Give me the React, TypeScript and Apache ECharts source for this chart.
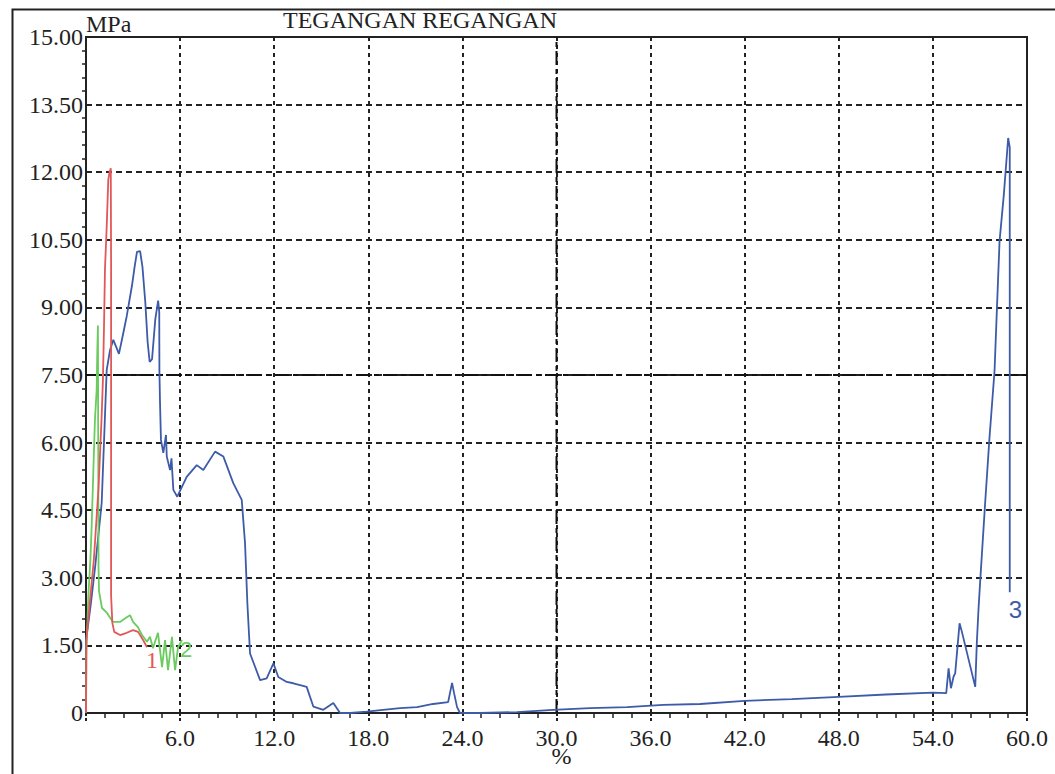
import React, { useEffect, useRef } from "react";
import * as echarts from "echarts";

// Series 3 (blue)
const blueStrain = [0, 0, 0.3, 0.6, 1.0, 1.2, 1.32, 1.53, 1.74, 1.95, 2.1, 2.3, 2.6, 2.93, 3.1, 3.25, 3.45, 3.6, 3.78, 3.93, 4.06, 4.21, 4.42, 4.6, 4.67, 4.68, 4.72, 4.78, 4.93, 5.1, 5.15, 5.36, 5.45, 5.57, 5.82, 6.42, 7.06, 7.48, 8.23, 8.76, 9.39, 9.93, 10.14, 10.29, 10.46, 11.1, 11.52, 11.95, 12.26, 12.8, 13.22, 13.65, 14.07, 14.5, 15.13, 15.77, 16.2, 16.84, 17.9, 18.94, 20.03, 21.11, 22.13, 23.09, 23.34, 23.47, 23.66, 23.85, 25.13, 27.49, 29.78, 32.14, 34.5, 36.8, 39.16, 42, 45, 48, 51, 54, 54.85, 55.0, 55.15, 55.32, 55.42, 55.7, 55.85, 56.7, 56.8, 56.91, 57.02, 57.34, 57.6, 57.93, 58.08, 58.25, 58.52, 58.65, 58.8, 58.9, 58.9];
const blueStress = [0, 1.6, 2.4, 3.3, 4.66, 6.5, 7.61, 8.05, 8.28, 8.1, 7.97, 8.3, 8.81, 9.48, 9.9, 10.23, 10.25, 9.9, 9.12, 8.23, 7.79, 7.85, 8.74, 9.15, 8.9, 7.61, 6.87, 6.06, 5.77, 6.17, 5.69, 5.39, 5.65, 4.95, 4.8, 5.24, 5.5, 5.39, 5.8, 5.69, 5.1, 4.73, 3.77, 2.43, 1.32, 0.73, 0.77, 1.1, 0.8, 0.69, 0.66, 0.62, 0.58, 0.14, 0.07, 0.22, 0, 0, 0.03, 0.07, 0.11, 0.13, 0.2, 0.24, 0.67, 0.44, 0.13, 0, 0, 0.02, 0.07, 0.11, 0.13, 0.18, 0.2, 0.27, 0.31, 0.36, 0.41, 0.45, 0.44, 0.99, 0.55, 0.81, 0.88, 1.99, 1.8, 0.58, 1.55, 2.32, 2.95, 4.71, 6.07, 7.59, 8.95, 10.47, 11.49, 12.08, 12.76, 12.55, 2.68];

// Series 2 (green)
const greenStrain = [0, 0.03, 0.15, 0.28, 0.36, 0.47, 0.57, 0.68, 0.72, 0.76, 0.78, 0.8, 0.83, 1.02, 1.34, 1.72, 2.17, 2.62, 2.81, 3.0, 3.32, 3.57, 3.89, 4.08, 4.27, 4.59, 4.85, 5.04, 5.23, 5.48, 5.68, 5.87, 6.12];
const greenStress = [0, 1.4, 2.6, 3.4, 4.13, 5.39, 6.5, 7.17, 8.0, 8.6, 6.0, 3.2, 2.7, 2.33, 2.22, 2.02, 2.02, 2.13, 2.17, 2.02, 1.9, 1.73, 1.58, 1.69, 1.44, 1.78, 1.02, 1.62, 0.95, 1.69, 0.95, 1.46, 1.62];

// Series 1 (red)
const redStrain = [0, 0.02, 0.2, 0.5, 0.8, 1.0, 1.08, 1.15, 1.21, 1.32, 1.42, 1.5, 1.58, 1.6, 1.6, 1.68, 1.8, 2.17, 2.6, 3.0, 3.32, 3.64, 3.89];
const redStress = [0, 1.6, 2.3, 3.4, 5.0, 6.6, 7.4, 8.6, 9.85, 10.79, 11.83, 12.0, 12.09, 10.0, 2.6, 2.0, 1.8, 1.73, 1.78, 1.84, 1.8, 1.62, 1.46];

const xTicks = { min: 0, max: 60, interval: 6 };
const yTicks = { min: 0, max: 15, interval: 1.5 };
// centre reference lines of the grid (stress 7.50 MPa, strain 30.0 %)
const centreStress = 7.5;
const centreStrain = 30;

const zip = (a: number[], b: number[]) => a.map((v, i) => [v, b[i]]);

const SERIF = "Liberation Serif";
const INK = "#222";
const CENTRE_DASH = [14, 4, 5, 4];

export default function App() {
  const ref = useRef<HTMLDivElement>(null);
  useEffect(() => {
    if (!ref.current) return;
    const chart = echarts.init(ref.current, null, { renderer: "svg" });
    const refLine = (data: number[][]) => ({
      type: "line",
      data,
      showSymbol: false,
      symbol: "none",
      silent: true,
      lineStyle: { color: "#111", width: 2, type: CENTRE_DASH },
      z: 2,
    });
    const option: any = {
      animation: false,
      backgroundColor: "#fff",
      textStyle: { fontFamily: SERIF },
      title: {
        text: "TEGANGAN REGANGAN",
        left: 278,
        top: 3,
        textStyle: { fontFamily: SERIF, fontSize: 24, fontWeight: "normal", color: INK },
      },
      graphic: [
        {
          type: "rect",
          left: 10,
          top: 7,
          shape: { width: 1100, height: 900 },
          style: { fill: "none", stroke: INK, lineWidth: 2 },
          silent: true,
        },
      ],
      grid: {
        left: 86,
        top: 37,
        right: 28,
        bottom: 61,
        outerBoundsMode: "none",
        containLabel: false,
        show: true,
        borderColor: INK,
        borderWidth: 2,
        backgroundColor: "transparent",
      },
      xAxis: {
        type: "value",
        min: xTicks.min,
        max: xTicks.max,
        interval: xTicks.interval,
        name: "%",
        nameLocation: "middle",
        nameGap: 35,
        nameMoveOverlap: false,
        nameTextStyle: { fontFamily: SERIF, fontSize: 24, lineHeight: 16, color: INK, padding: [0, 0, 0, 10] },
        axisLine: { lineStyle: { color: INK, width: 2 } },
        axisTick: { show: true, length: 8, lineStyle: { color: INK, width: 2, type: [3, 2] } },
        minorTick: { show: true, splitNumber: 5, length: 5, lineStyle: { color: INK, width: 1.5 } },
        splitLine: { show: true, lineStyle: { color: INK, width: 2, type: [4, 4] } },
        axisLabel: {
          fontFamily: SERIF,
          fontSize: 24,
          lineHeight: 16,
          color: INK,
          margin: 17,
          formatter: (v: number) => (v === 0 ? "" : v.toFixed(1)),
        },
      },
      yAxis: {
        type: "value",
        min: yTicks.min,
        max: yTicks.max,
        interval: yTicks.interval,
        name: "MPa",
        nameLocation: "end",
        nameGap: 1,
        nameMoveOverlap: false,
        nameTextStyle: { fontFamily: SERIF, fontSize: 24, color: INK, align: "left" },
        axisLine: { show: true, lineStyle: { color: INK, width: 2 } },
        axisTick: { show: false },
        minorTick: { show: true, splitNumber: 5, length: 4, lineStyle: { color: INK, width: 1.5 } },
        splitLine: { show: true, lineStyle: { color: INK, width: 2, type: [6, 4] } },
        axisLabel: {
          fontFamily: SERIF,
          fontSize: 24,
          color: INK,
          margin: 3,
          formatter: (v: number) => (v === 0 ? "0" : v.toFixed(2)),
        },
      },
      series: [
        refLine([[xTicks.min, centreStress], [xTicks.max, centreStress]]),
        refLine([[centreStrain, yTicks.min], [centreStrain, yTicks.max]]),
        {
          name: "3",
          type: "line",
          data: zip(blueStrain, blueStress),
          showSymbol: false,
          symbol: "none",
          lineStyle: { color: "#3d5ba8", width: 1.8 },
          endLabel: { show: true, formatter: "3", color: "#3d5ba8", fontFamily: "Liberation Sans", fontSize: 24, distance: 0, offset: [-1, 17] },
          z: 3,
        },
        {
          name: "2",
          type: "line",
          data: zip(greenStrain, greenStress),
          showSymbol: false,
          symbol: "none",
          lineStyle: { color: "#6acb5e", width: 1.8 },
          endLabel: { show: true, formatter: "2", color: "#6acb5e", fontFamily: "Liberation Sans", fontSize: 22, distance: 0, offset: [-2, 10] },
          z: 4,
        },
        {
          name: "1",
          type: "line",
          data: zip(redStrain, redStress),
          showSymbol: false,
          symbol: "none",
          lineStyle: { color: "#e25858", width: 1.8 },
          endLabel: { show: true, formatter: "1", color: "#e25858", fontFamily: SERIF, fontSize: 24, distance: 0, offset: [-1, 13] },
          z: 5,
        },
      ],
    };
    chart.setOption(option);
    return () => chart.dispose();
  }, []);
  return <div ref={ref} style={{ position: "absolute", left: 0, top: 0, width: 1055, height: 774 }} />;
}
